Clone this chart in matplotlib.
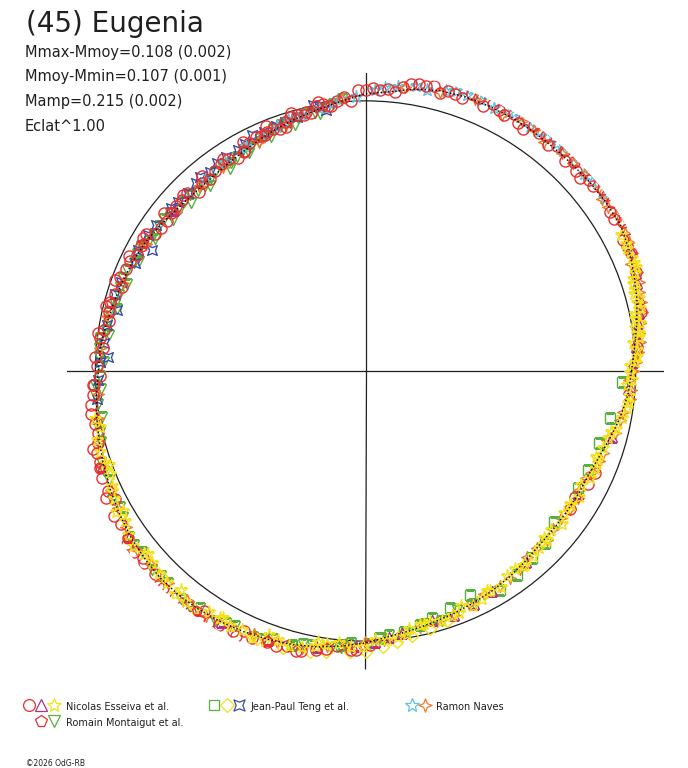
import numpy as np
import matplotlib
matplotlib.use("Agg")
from matplotlib import pyplot as plt
from matplotlib.path import Path
from matplotlib.patches import Circle

plt.rcParams['font.family'] = ['DejaVu Sans']

TITLE = "(45) Eugenia"
INFO_LINES = ["Mmax-Mmoy=0.108 (0.002)", "Mmoy-Mmin=0.107 (0.001)",
              "Mamp=0.215 (0.002)", "Eclat^1.00"]

# mean light curve, phase angle (deg) -> radius (reference circle = 1)
mean_ang = [0, 5, 10, 15, 20, 25, 30, 35, 40, 45, 50, 55, 60, 65, 70, 75, 80, 85,
            90, 95, 100, 105, 110, 115, 120, 125, 130, 135, 140, 145, 150, 155, 160,
            165, 170, 175, 180, 185, 190, 195, 200, 205, 210, 215, 220, 225, 230, 235,
            240, 245, 250, 255, 260, 265, 270, 275, 280, 285, 290, 295, 300, 305, 310,
            315, 320, 325, 330, 335, 340, 345, 350, 355, 360]
mean_r = [0.985, 1.000, 1.020, 1.040, 1.057, 1.075, 1.088, 1.087, 1.085, 1.082, 1.081,
          1.082, 1.083, 1.082, 1.080, 1.074, 1.060, 1.038, 1.026, 1.004, 0.985, 0.970,
          0.956, 0.941, 0.928, 0.919, 0.914, 0.915, 0.921, 0.933, 0.945, 0.952, 0.959,
          0.966, 0.975, 0.986, 0.989, 1.000, 1.010, 1.020, 1.031, 1.042, 1.053, 1.064,
          1.072, 1.079, 1.080, 1.077, 1.072, 1.065, 1.057, 1.048, 1.037, 1.022, 1.007,
          0.987, 0.975, 0.964, 0.955, 0.947, 0.939, 0.930, 0.920, 0.911, 0.909, 0.909,
          0.910, 0.911, 0.922, 0.940, 0.960, 0.976, 0.985]

# Nicolas Esseiva et al. - circles
ess_circ_ang = [24, 27, 30, 33, 36, 39, 42, 45, 48, 51, 54, 57, 60, 63, 66, 69, 72, 75,
                78, 81, 84, 87, 90, 93, 96, 99, 102, 105, 108, 111, 114,
                31.5, 34.5, 40.5, 46.5, 52.5, 58.5, 64.5, 70.5, 76.5, 82.5, 88.5, 94.5,
                117, 121, 125, 129, 133, 137, 141, 145, 149, 153, 157, 161, 165, 169,
                173, 177, 181, 185, 189, 193, 197, 202, 207, 212, 218, 224, 230, 236,
                243, 250, 257, 264, 271,
                5, 12, 20, 326, 329, 333, 336,
                98, 103, 108, 113, 119, 123, 131, 139, 147, 155, 163, 171, 179, 183,
                191, 199, 205, 215, 221, 233, 240, 247, 254, 260,
                25.5, 28.5, 37.5, 43.5, 49.5, 55.5, 61.5, 67.5, 73.5, 79.5, 85.5, 91.5,
                97.5, 100.5, 103.5, 106.5, 109.5, 112.5,
                115, 119, 127, 135, 143, 151, 159, 167, 175, 183, 187, 195, 200, 210,
                220, 227, 238, 245, 252, 262, 267,
                100, 106, 112, 118, 124, 130, 136, 142, 148, 154, 160, 166, 172,
                196, 206, 216, 226, 234, 244, 256, 268]
ess_circ_r = [1.076, 1.070, 1.100, 1.080, 1.107, 1.086, 1.069, 1.092, 1.103, 1.076,
              1.090, 1.070, 1.098, 1.086, 1.072, 1.099, 1.078, 1.066, 1.078, 1.076,
              1.037, 1.043, 1.041, 1.002, 1.006, 1.002, 0.975, 0.980, 0.950, 0.959, 0.954,
              1.080, 1.105, 1.089, 1.072, 1.097, 1.078, 1.094, 1.074, 1.085, 1.060,
              1.049, 1.018,
              0.946, 0.918, 0.934, 0.915, 0.904, 0.929, 0.927, 0.923, 0.959, 0.949,
              0.965, 0.954, 0.980, 0.969, 0.992, 1.003, 0.983, 1.012, 1.028, 1.016,
              1.038, 1.053, 1.042, 1.069, 1.089, 1.084, 1.096, 1.072, 1.082, 1.067,
              1.062, 1.025, 1.015,
              1.010, 1.043, 1.067, 0.915, 0.905, 0.925, 0.928,
              0.990, 0.985, 0.968, 0.950, 0.930, 0.935, 0.922, 0.930, 0.930, 0.960,
              0.970, 0.980, 0.995, 1.005, 1.020, 1.040, 1.050, 1.075, 1.085, 1.090,
              1.085, 1.075, 1.060, 1.050,
              1.071, 1.100, 1.106, 1.073, 1.093, 1.104, 1.077, 1.095, 1.081, 1.080,
              1.046, 1.039, 0.991, 0.996, 0.975, 0.982, 0.952, 0.957,
              0.955, 0.926, 0.926, 0.933, 0.922, 0.952, 0.974, 0.974, 0.976, 1.010,
              1.024, 1.024, 1.047, 1.073, 1.076, 1.098, 1.094, 1.061, 1.071, 1.039,
              1.036,
              1.010, 0.995, 0.980, 0.962, 0.945, 0.940, 0.940, 0.948, 0.960, 0.975,
              0.985, 0.990, 1.000,
              1.048, 1.070, 1.090, 1.105, 1.105, 1.090, 1.070, 1.035]

# Nicolas Esseiva et al. - triangles
ess_tri_ang = [5, 10, 15, 20, 24, 200, 215, 240, 260, 268, 272, 278, 285, 290, 300,
               345, 356, 2, 8, 12, 18, 250, 275, 295, 310, 330, 140, 190]
ess_tri_r = [1.005, 1.025, 1.050, 1.065, 1.080, 1.038, 1.070, 1.072, 1.038, 1.020,
             1.005, 0.978, 0.955, 0.960, 0.940, 0.945, 0.975, 0.990, 1.015, 1.035,
             1.055, 1.060, 0.990, 0.950, 0.925, 0.910, 0.925, 1.010]

# Nicolas Esseiva et al. - stars
ess_star_ang = [192, 197, 202, 207, 212, 217, 222, 227, 232, 237, 242, 247, 252, 257,
                262, 267, 272, 277, 282, 287, 292, 297, 302, 307, 312, 317, 322, 327,
                332, 337, 342, 347, 352, 357, 2, 6, 10, 14, 18, 22, 26,
                194.5, 204.5, 214.5, 224.5, 234.5, 244.5, 254.5, 264.5, 274.5, 284.5,
                294.5, 304.5, 314.5, 324.5, 334.5, 344.5, 354.5, 4.5, 12, 20, 8, 16,
                190, 199.5, 209.5, 219.5, 229.5, 239.5, 249.5, 259.5, 269.5, 279.5,
                289.5, 299.5, 309.5, 319.5, 329.5, 339.5, 349.5, 359.5, 7, 11, 15, 19,
                23, 28,
                1, 3, 9, 13, 17, 21, 25, 279, 283, 291, 299, 309, 317, 327, 339, 346,
                353, 358,
                200, 210, 220, 230, 240, 250, 260]
ess_star_r = [1.004, 1.029, 1.020, 1.046, 1.049, 1.077, 1.063, 1.075, 1.085, 1.065,
              1.070, 1.074, 1.047, 1.048, 1.021, 1.024, 0.995, 0.993, 0.963, 0.966,
              0.940, 0.948, 0.945, 0.920, 0.924, 0.906, 0.921, 0.909, 0.902, 0.924,
              0.923, 0.952, 0.978, 0.970, 0.997, 0.996, 1.030, 1.036, 1.040, 1.072, 1.072,
              1.027, 1.031, 1.069, 1.070, 1.088, 1.062, 1.057, 1.013, 1.000, 0.959,
              0.956, 0.923, 0.918, 0.903, 0.921, 0.932, 0.979, 1.009, 1.020, 1.061,
              1.022, 1.035,
              1.016, 1.022, 1.062, 1.065, 1.084, 1.063, 1.066, 1.034, 1.020, 0.968,
              0.962, 0.934, 0.931, 0.905, 0.918, 0.910, 0.964, 0.978, 1.020, 1.018,
              1.050, 1.046, 1.072, 1.073,
              0.980, 1.006, 1.010, 1.042, 1.043, 1.073, 1.067, 0.987, 0.962, 0.961,
              0.931, 0.928, 0.920, 0.903, 0.922, 0.936, 0.980, 0.988,
              1.012, 1.035, 1.052, 1.060, 1.055, 1.040, 1.020]

# Jean-Paul Teng et al. - squares
teng_sq_ang = [357.6, 349.1, 342.8, 336, 331.1, 321.3, 316.2, 311.6, 306.5, 301.6,
               295, 289.6, 285, 282.1, 278.3, 273.1, 265, 255]
teng_sq_r = [0.950, 0.922, 0.906, 0.903, 0.900, 0.892, 0.922, 0.927, 0.940, 0.952,
             0.915, 0.933, 0.948, 0.962, 0.976, 0.991, 1.020, 1.050]

# Jean-Paul Teng et al. - diamonds
teng_dia_ang = [253.5, 258.8, 266.8, 270.2, 273.7, 276.6, 262, 280, 284, 288, 205,
                225, 240, 248]
teng_dia_r = [1.071, 1.060, 1.041, 1.040, 1.023, 1.009, 1.050, 0.995, 0.985, 0.975,
              1.035, 1.072, 1.070, 1.072]

# Jean-Paul Teng et al. - four-point stars
teng_x_ang = [101.1, 98.5, 105, 110, 115.7, 120, 125.6, 130.4, 135, 140, 145, 150.5,
              155, 160, 166.2, 170, 176.8, 182, 186,
              100, 108, 113, 118, 123, 128, 132, 138, 148, 152, 163, 174, 178]
teng_x_r = [1.004, 0.977, 0.975, 0.965, 0.970, 0.945, 0.946, 0.945, 0.930, 0.940,
            0.945, 0.910, 0.942, 0.965, 0.949, 0.970, 0.954, 0.990, 1.000,
            0.995, 0.970, 0.960, 0.952, 0.945, 0.935, 0.935, 0.935, 0.950, 0.955,
            0.970, 0.975, 0.985]

# Ramon Naves - stars
naves_star_ang = [36, 42, 48, 50, 52.3, 56, 58.7, 64, 69.9, 74, 77.7, 83.4, 88, 92,
                  97, 104, 110, 113.7, 118, 124, 130,
                  40, 45, 54, 61, 67, 72, 80, 86, 95, 100, 107]
naves_star_r = [1.090, 1.090, 1.095, 1.101, 1.097, 1.090, 1.102, 1.085, 1.089, 1.080,
                1.065, 1.060, 1.040, 1.016, 1.000, 0.978, 0.960, 0.955, 0.940, 0.930,
                0.925,
                1.095, 1.092, 1.100, 1.095, 1.090, 1.088, 1.070, 1.050, 1.012, 0.990,
                0.975]

# Ramon Naves - four-point stars
naves_x_ang = [0, 4, 8, 12, 16, 20, 24, 28, 32, 36, 42, 48, 55, 62, 75, 95, 108, 125,
               140, 160, 175, 185, 195, 205, 213, 222, 232, 242, 252, 262, 270, 278,
               286, 294, 302, 308, 314, 320, 326, 331, 336, 341, 346, 351, 356, 358,
               6, 14, 22,
               2, 10, 18, 26, 30, 34, 38, 45, 52, 58, 68, 82, 115, 132, 150, 168, 190,
               200, 209, 218, 227, 237, 247, 257, 266, 274, 282, 290, 298, 305, 311,
               317, 323, 329, 334, 339, 344, 349, 354]
naves_x_r = [0.990, 1.010, 1.022, 1.045, 1.055, 1.070, 1.078, 1.088, 1.095, 1.082,
             1.092, 1.085, 1.090, 1.075, 1.070, 1.010, 0.958, 0.920, 0.918, 0.955,
             0.985, 0.995, 1.020, 1.040, 1.058, 1.070, 1.076, 1.066, 1.056, 1.028,
             1.004, 0.980, 0.962, 0.945, 0.940, 0.930, 0.912, 0.908, 0.915, 0.905,
             0.920, 0.930, 0.950, 0.965, 0.985, 0.975, 1.020, 1.052, 1.060,
             1.003, 1.030, 1.064, 1.086, 1.098, 1.083, 1.098, 1.088, 1.075, 1.092,
             1.085, 1.060, 0.937, 0.920, 0.937, 0.977, 1.004, 1.039, 1.047, 1.075,
             1.072, 1.081, 1.058, 1.052, 1.013, 0.997, 0.967, 0.963, 0.936, 0.934,
             0.912, 0.918, 0.905, 0.916, 0.907, 0.926, 0.930, 0.960, 0.983]

# Romain Montaigut et al. - pentagons
mont_pent_ang = [150, 165, 200, 215, 235, 250]
mont_pent_r = [0.950, 0.975, 1.045, 1.075, 1.085, 1.065]

# Romain Montaigut et al. - down triangles
mont_tri_ang = [95, 99, 103, 107, 111, 115, 119, 123, 127, 131, 135, 139, 143, 147,
                151, 155, 159, 163, 167, 171, 175, 179, 183, 187, 191, 195, 199, 203,
                207, 211, 215, 219, 223, 227, 231, 235, 239, 243, 247, 251, 255, 259,
                263, 267, 271, 275, 279, 283, 287, 291, 295,
                97, 105, 113, 121, 129, 137, 145, 153, 161, 169, 177,
                101, 109, 117, 125, 133, 141, 149, 157, 165, 173, 181, 185, 193, 201,
                209, 217, 225, 233, 241, 249, 257, 265, 273,
                100, 106, 112, 118, 124, 130, 136, 142, 148, 154, 160, 166, 172, 178,
                184, 190]
mont_tri_r = [1.010, 0.984, 0.981, 0.959, 0.958, 0.934, 0.936, 0.916, 0.923, 0.907,
              0.920, 0.912, 0.933, 0.932, 0.952, 0.944, 0.963, 0.956, 0.976, 0.972,
              0.991, 0.984, 1.001, 0.998, 1.018, 1.014, 1.036, 1.032, 1.052, 1.049,
              1.069, 1.064, 1.082, 1.073, 1.086, 1.070, 1.079, 1.061, 1.068, 1.049,
              1.054, 1.033, 1.034, 1.010, 1.009, 0.981, 0.983, 0.962, 0.966, 0.947,
              0.953,
              0.996, 0.970, 0.945, 0.925, 0.912, 0.920, 0.935, 0.950, 0.960, 0.972,
              0.988,
              0.974, 0.965, 0.930, 0.927, 0.910, 0.929, 0.933, 0.959, 0.960, 0.990,
              0.983, 1.006, 1.008, 1.037, 1.041, 1.073, 1.071, 1.087, 1.065, 1.063,
              1.036, 1.028, 0.990,
              0.965, 0.948, 0.935, 0.915, 0.900, 0.895, 0.897, 0.905, 0.920, 0.932,
              0.940, 0.948, 0.958, 0.968, 0.980, 0.990]

RED = '#e83030'
PURPLE = '#b03088'
YELLOW = '#f2e21c'
GREEN = '#58b040'
BLUE = '#3a4fa8'
CYAN = '#5ec4e0'
ORANGE = '#f07a2a'
INK = '#202020'

STAR4 = Path([(0, 1), (0.28, 0.28), (1, 0), (0.28, -0.28), (0, -1), (-0.28, -0.28),
              (-1, 0), (-0.28, 0.28), (0, 1)], closed=True)
SQ4 = Path([(1, 1), (0, 0.6), (-1, 1), (-0.6, 0), (-1, -1), (0, -0.6), (1, -1),
            (0.6, 0), (1, 1)], closed=True)

series = [
    (mont_tri_ang, mont_tri_r, 'v', GREEN, 7),
    (teng_x_ang, teng_x_r, SQ4, BLUE, 7),
    (naves_star_ang, naves_star_r, '*', CYAN, 9.5),
    (naves_x_ang, naves_x_r, STAR4, ORANGE, 8.5),
    (teng_sq_ang, teng_sq_r, 's', GREEN, 6.5),
    (teng_dia_ang, teng_dia_r, 'D', YELLOW, 6.5),
    (ess_tri_ang, ess_tri_r, '^', PURPLE, 7),
    (ess_circ_ang, ess_circ_r, 'o', RED, 8),
    (ess_star_ang, ess_star_r, '*', YELLOW, 9.5),
    (mont_pent_ang, mont_pent_r, 'p', RED, 7.5),
]

W, H = 688, 768
fig = plt.figure(figsize=(W / 100, H / 100), dpi=100)
L = 1.105
ax = fig.add_axes([67 / W, 1 - 669.5 / H, 597 / W, 597 / H], projection='polar')
ax.set_rlim(0, L)
ax.set_axis_off()

# cross and reference circle
for t in [0, 90, 180, 270]:
    ax.plot([np.radians(t)] * 2, [0, L], color=INK, lw=0.9, zorder=1)
ax.add_patch(Circle((0, 0), 1.0, transform=ax.transProjectionAffine + ax.transAxes,
                    fill=False, ec=INK, lw=0.9, zorder=1))

for ang, r, mk, col, ms in series:
    ax.plot(np.radians(ang), r, ls='none', marker=mk, ms=ms, mfc='none', mec=col,
            mew=1.0, zorder=3)

ax.plot(np.radians(mean_ang), mean_r, ls=':', color='black', lw=1.0, zorder=5)

# texts
fig.text(26 / W, 1 - 32.5 / H, TITLE, fontsize=20, color=INK, va='baseline')
for i, s in enumerate(INFO_LINES):
    fig.text(25 / W, 1 - (56.7 + 24.8 * i) / H, s, fontsize=10.5, color=INK,
             va='baseline')

# legend in pixel coordinates
lax = fig.add_axes([0, 0, 1, 1])
lax.set_xlim(0, W)
lax.set_ylim(H, 0)
lax.set_axis_off()
leg_marks = [
    (29, 705, 'o', RED, 8.5), (41, 705, '^', PURPLE, 8), (53.5, 705, '*', YELLOW, 10),
    (214, 705, 's', GREEN, 7.5), (226.5, 705, 'D', YELLOW, 7.5), (239, 705, SQ4, BLUE, 8),
    (412, 705, '*', CYAN, 10), (424.5, 705, STAR4, ORANGE, 9.5),
    (41, 721, 'p', RED, 8.5), (54, 721, 'v', GREEN, 8),
]
for x, y, mk, col, ms in leg_marks:
    lax.plot(x, y, marker=mk, ms=ms, mfc='none', mec=col, mew=0.9, ls='none')
leg_text = [(66.5, 709.5, "Nicolas Esseiva et al."), (250.5, 709.5, "Jean-Paul Teng et al."),
            (436.5, 709.5, "Ramon Naves"), (66.5, 725.5, "Romain Montaigut et al.")]
for x, y, s in leg_text:
    lax.text(x, y, s, fontsize=7, color=INK, va='baseline')
lax.text(26, 763, "©2026 OdG-RB", fontsize=5.5, color=INK, va='center')

fig.savefig("out.png", dpi=100)
